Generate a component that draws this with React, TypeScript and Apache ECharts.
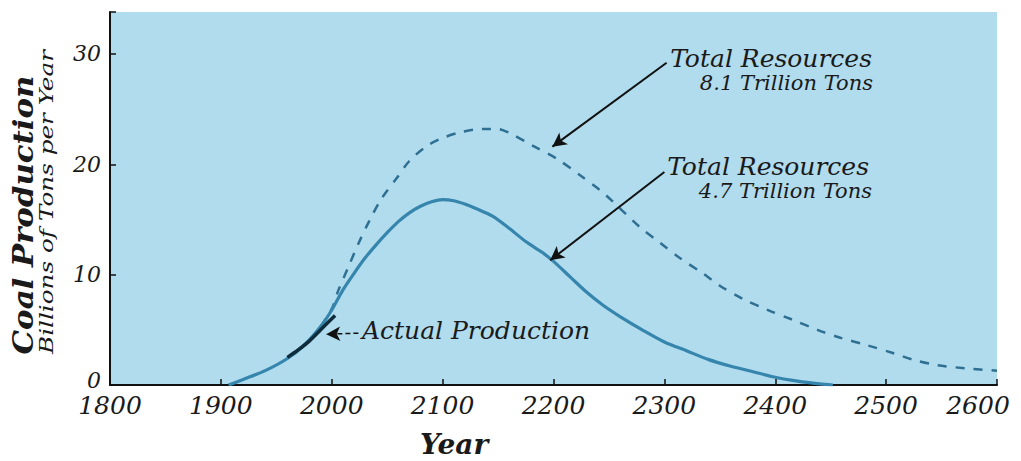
import React, { useEffect, useRef } from "react";
import * as echarts from "echarts";

const years4_7 = [1907, 1920, 1940, 1960, 1975, 1990, 2000, 2010, 2020, 2030, 2040, 2050, 2060, 2070, 2080, 2090, 2100, 2110, 2120, 2130, 2145, 2160, 2175, 2190, 2200, 2215, 2230, 2245, 2260, 2280, 2300, 2320, 2340, 2360, 2380, 2400, 2420, 2440, 2452];
const values4_7 = [0, 0.5, 1.3, 2.4, 3.6, 5.3, 6.8, 8.6, 10.1, 11.5, 12.7, 13.8, 14.8, 15.6, 16.2, 16.6, 16.8, 16.7, 16.4, 16.0, 15.3, 14.2, 13.0, 12.0, 11.2, 9.8, 8.4, 7.2, 6.2, 5.0, 3.9, 3.1, 2.3, 1.7, 1.2, 0.7, 0.35, 0.1, 0];

const years8_1 = [1990, 2000, 2006, 2015, 2024, 2034, 2045, 2059, 2070, 2085, 2098, 2116, 2136, 2150, 2161, 2181, 2203, 2224, 2245, 2278, 2296, 2314, 2335, 2350, 2371, 2393, 2416, 2438, 2458, 2483, 2506, 2524, 2546, 2573, 2600];
const values8_1 = [5.3, 6.9, 8.6, 10.7, 12.8, 14.9, 16.9, 18.8, 20.3, 21.6, 22.3, 22.9, 23.2, 23.2, 22.8, 21.7, 20.5, 19.0, 17.4, 14.3, 12.9, 11.5, 10.1, 9.0, 7.8, 6.8, 5.9, 5.0, 4.3, 3.6, 2.9, 2.3, 1.8, 1.5, 1.3];

const actualYears = [1960, 1970, 1980, 1990, 2003];
const actualValues = [2.5, 3.2, 4.0, 5.0, 6.3];

const xTicks = [1800, 1900, 2000, 2100, 2200, 2300, 2400, 2500, 2600];
const yTicks = [0, 10, 20, 30];

// arrows: [fromYear, fromValue, toYear, toValue]
const arrow81 = [2302, 29.2, 2199, 21.6];
const arrow47 = [2300, 19.3, 2197, 11.3];
const arrowActual = [2024, 4.7, 1995, 4.6];

const SERIF = "'DejaVu Serif', serif";

export default function App() {
  const ref = useRef<HTMLDivElement>(null);
  useEffect(() => {
    const chart = echarts.init(ref.current!, null, { renderer: "svg" });
    const zip = (a: number[], b: number[]) => a.map((v, i) => [v, b[i]]);
    const textColor = "#1a1a1a";
    const yLabelStyle = { fontFamily: SERIF, fontStyle: "italic", fontSize: 22, color: textColor };
    chart.setOption({
      animation: false,
      grid: {
        left: 110, right: 24, top: 12, bottom: 76,
        show: true, backgroundColor: "#b1dcee", borderWidth: 0,
      },
      xAxis: {
        type: "value", min: xTicks[0], max: xTicks[xTicks.length - 1], interval: 100,
        axisLine: { show: true, lineStyle: { color: "#111", width: 2 } },
        axisTick: { show: true, inside: true, length: 6, lineStyle: { color: "#111", width: 1.5 } },
        splitLine: { show: false },
        axisLabel: {
          margin: 8,
          color: textColor,
          fontFamily: SERIF, fontStyle: "italic", fontSize: 25,
          formatter: (v: number) => (v === 2600 ? "{last|" + v + "}" : String(v)),
          rich: { last: { fontFamily: SERIF, fontStyle: "italic", fontSize: 25, color: textColor, padding: [0, 38, 0, 0] } },
        },
      },
      yAxis: {
        type: "value", min: 0, max: 33.8, interval: 10,
        axisLine: { show: true, lineStyle: { color: "#111", width: 2 } },
        axisTick: { show: true, inside: true, length: 6, lineStyle: { color: "#111", width: 1.5 } },
        splitLine: { show: false },
        axisLabel: {
          margin: 9, ...yLabelStyle,
          formatter: (v: number) => (v === 0 ? "{zero|0}" : yTicks.includes(v) ? String(v) : ""),
          rich: { zero: { ...yLabelStyle, padding: [0, 0, 10, 0] } },
        },
      },
      series: [
        {
          type: "line", data: zip(years8_1, values8_1), smooth: 0.3, showSymbol: false, symbol: "none",
          lineStyle: { color: "#2f6f92", width: 2.5, type: [9, 9] }, z: 2,
        },
        {
          type: "line", data: zip(years4_7, values4_7), smooth: 0.3, showSymbol: false, symbol: "none",
          lineStyle: { color: "#3585ad", width: 3.2 }, z: 3,
        },
        {
          type: "line", data: zip(actualYears, actualValues), smooth: 0.3, showSymbol: false, symbol: "none",
          lineStyle: { color: "#0f2c3c", width: 3.5 }, z: 4,
          markLine: {
            silent: true, symbol: ["none", "arrow"], symbolSize: [11, 14],
            label: { show: false },
            lineStyle: { color: "#111", width: 2, type: "solid" },
            data: [
              [{ coord: [arrow81[0], arrow81[1]] }, { coord: [arrow81[2], arrow81[3]] }],
              [{ coord: [arrow47[0], arrow47[1]] }, { coord: [arrow47[2], arrow47[3]] }],
              [{ coord: [arrowActual[0], arrowActual[1]], lineStyle: { type: [5, 3], width: 1.5 } }, { coord: [arrowActual[2], arrowActual[3]] }],
            ],
          },
        },
      ],
      graphic: [
        { type: "text", x: 872, y: 58, style: { text: "Total Resources", textAlign: "right", textVerticalAlign: "middle", font: `italic 25px ${SERIF}`, fill: textColor } },
        { type: "text", x: 873, y: 83, style: { text: "8.1 Trillion Tons", textAlign: "right", textVerticalAlign: "middle", font: `italic 21px ${SERIF}`, fill: textColor } },
        { type: "text", x: 869, y: 166, style: { text: "Total Resources", textAlign: "right", textVerticalAlign: "middle", font: `italic 25px ${SERIF}`, fill: textColor } },
        { type: "text", x: 872, y: 191, style: { text: "4.7 Trillion Tons", textAlign: "right", textVerticalAlign: "middle", font: `italic 21px ${SERIF}`, fill: textColor } },
        { type: "text", x: 362, y: 330, style: { text: "Actual Production", textAlign: "left", textVerticalAlign: "middle", font: `italic 25px ${SERIF}`, fill: textColor } },
        { type: "text", x: 454, y: 444, style: { text: "Year", textAlign: "center", textVerticalAlign: "middle", font: `italic bold 28px ${SERIF}`, fill: textColor } },
        { type: "text", x: 23, y: 215, rotation: Math.PI / 2, scaleX: 1.1, style: { text: "Coal Production", textAlign: "center", textVerticalAlign: "middle", font: `italic bold 28px ${SERIF}`, fill: textColor } },
        { type: "text", x: 47, y: 202, rotation: Math.PI / 2, scaleX: 1.3, style: { text: "Billions of Tons per Year", textAlign: "center", textVerticalAlign: "middle", font: `italic 19px ${SERIF}`, fill: textColor } },
      ],
    });
    return () => chart.dispose();
  }, []);
  return <div ref={ref} style={{ width: 1021, height: 461, position: "absolute", left: 0, top: 0 }} />;
}
